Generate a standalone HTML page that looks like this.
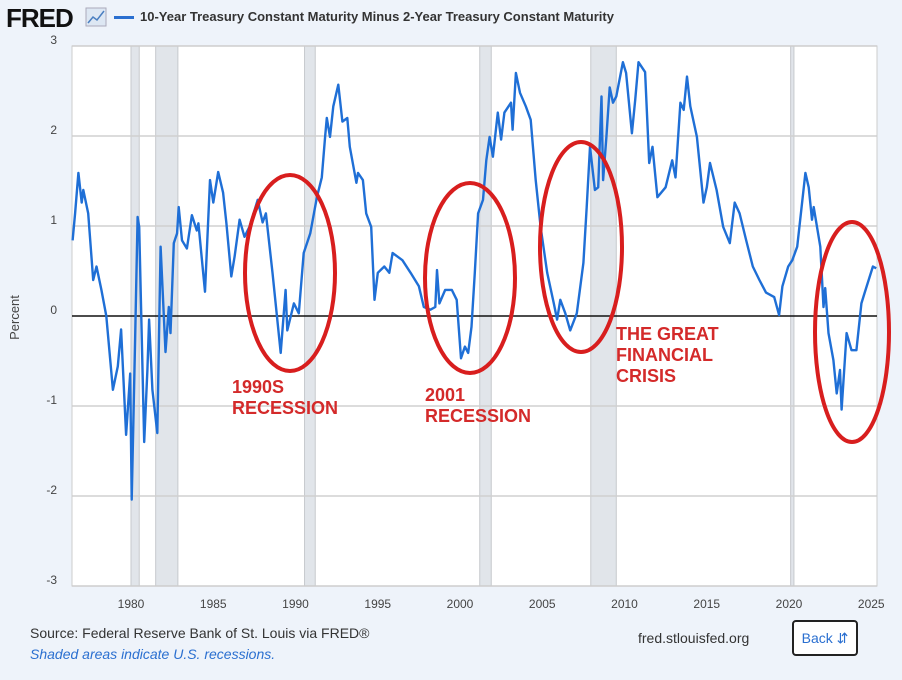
<!DOCTYPE html>
<html><head><meta charset="utf-8"><style>
body{margin:0;width:902px;height:680px;background:#eef3fa;font-family:"Liberation Sans",sans-serif;overflow:hidden;position:relative}
.t{position:absolute}
</style></head><body>
<div class="t" style="left:6px;top:3px;font-size:26px;font-weight:bold;color:#111;letter-spacing:-1px">FRED</div>
<svg class="t" style="left:85px;top:7px" width="22" height="20"><rect x="1" y="1" width="20" height="18" fill="#dde7f3" stroke="#aab" /><polyline points="3,16 8,10 12,13 19,4" fill="none" stroke="#4a7fc1" stroke-width="1.5"/></svg>
<div class="t" style="left:114px;top:16px;width:20px;height:3px;background:#2a6fd0"></div>
<div class="t" style="left:140px;top:9px;font-size:13px;font-weight:bold;color:#333">10-Year Treasury Constant Maturity Minus 2-Year Treasury Constant Maturity</div>
<div class="t" style="left:-8px;top:310px;font-size:13px;color:#444;transform:rotate(-90deg)">Percent</div>
<svg class="t" style="left:0;top:0" width="902" height="680" id="chart"></svg>
<div class="t" style="left:30px;top:625px;font-size:14px;color:#333">Source: Federal Reserve Bank of St. Louis via FRED®</div>
<div class="t" style="left:30px;top:646px;font-size:14px;color:#2a6fd0;font-style:italic">Shaded areas indicate U.S. recessions.</div>
<div class="t" style="left:638px;top:630px;font-size:14px;color:#333">fred.stlouisfed.org</div>
<div class="t" style="left:792px;top:620px;width:62px;height:32px;border:2px solid #222;border-radius:4px;background:#fff;font-size:14px;color:#2a6fd0;text-align:center;line-height:32px">Back ⇵</div>
<script>
const yTicks=[3,2,1,0,-1,-2,-3];
const xTicks=[1980,1985,1990,1995,2000,2005,2010,2015,2020,2025];
const recessions=[[1980.0,1980.5],[1981.5,1982.85],[1990.55,1991.2],[2001.2,2001.9],[2007.95,2009.5],[2020.1,2020.3]];
const years=[1976.45,1976.6,1976.8,1977.0,1977.1,1977.4,1977.7,1977.9,1978.2,1978.5,1978.9,1979.2,1979.4,1979.7,1979.95,1980.04,1980.25,1980.4,1980.5,1980.8,1981.0,1981.1,1981.3,1981.6,1981.8,1982.1,1982.3,1982.4,1982.6,1982.8,1982.9,1983.1,1983.4,1983.7,1984.0,1984.1,1984.5,1984.8,1985.0,1985.3,1985.6,1985.8,1986.1,1986.3,1986.6,1986.9,1987.2,1987.7,1988.0,1988.2,1988.6,1989.1,1989.4,1989.5,1989.9,1990.2,1990.5,1990.9,1991.3,1991.6,1991.8,1991.9,1992.1,1992.3,1992.6,1992.85,1993.15,1993.3,1993.7,1993.8,1994.1,1994.3,1994.6,1994.8,1995.0,1995.4,1995.7,1995.9,1996.5,1997.0,1997.5,1997.8,1998.2,1998.5,1998.6,1998.75,1999.1,1999.5,1999.8,2000.06,2000.3,2000.5,2000.7,2000.9,2001.1,2001.4,2001.6,2001.8,2002.0,2002.3,2002.5,2002.7,2003.1,2003.2,2003.4,2003.65,2004.0,2004.3,2004.6,2004.9,2005.3,2005.7,2005.9,2006.1,2006.4,2006.7,2007.1,2007.5,2007.7,2007.9,2008.2,2008.4,2008.6,2008.7,2008.9,2009.1,2009.3,2009.5,2009.9,2010.1,2010.45,2010.65,2010.85,2011.25,2011.5,2011.7,2012.0,2012.5,2012.9,2013.1,2013.4,2013.6,2013.8,2014.0,2014.4,2014.8,2015.0,2015.2,2015.6,2016.0,2016.4,2016.7,2017.0,2017.4,2017.8,2018.2,2018.6,2019.1,2019.4,2019.6,2019.95,2020.2,2020.5,2021.0,2021.2,2021.4,2021.5,2021.9,2022.1,2022.2,2022.4,2022.7,2022.9,2023.1,2023.2,2023.5,2023.8,2024.1,2024.4,2024.6,2025.1,2025.3];
const spread=[0.84,1.14,1.59,1.26,1.4,1.14,0.4,0.55,0.29,0.0,-0.82,-0.56,-0.15,-1.32,-0.64,-2.04,-0.27,1.1,0.99,-1.4,-0.6,-0.04,-0.82,-1.3,0.77,-0.4,0.1,-0.19,0.81,0.92,1.21,0.84,0.75,1.12,0.95,1.03,0.27,1.51,1.26,1.6,1.37,1.03,0.44,0.66,1.07,0.88,0.99,1.29,1.04,1.14,0.48,-0.41,0.29,-0.16,0.14,0.03,0.7,0.92,1.32,1.54,1.99,2.2,1.99,2.33,2.57,2.16,2.2,1.88,1.48,1.59,1.51,1.14,0.99,0.18,0.48,0.55,0.48,0.7,0.62,0.48,0.33,0.1,0.07,0.1,0.51,0.14,0.29,0.29,0.18,-0.47,-0.34,-0.41,-0.12,0.48,1.14,1.29,1.73,1.99,1.77,2.26,1.96,2.26,2.37,2.07,2.7,2.48,2.33,2.18,1.51,0.99,0.48,0.14,-0.04,0.18,0.03,-0.16,0.03,0.59,1.21,1.88,1.4,1.43,2.44,1.51,1.99,2.54,2.37,2.44,2.82,2.7,2.03,2.4,2.82,2.71,1.7,1.88,1.32,1.43,1.73,1.54,2.37,2.29,2.66,2.33,1.99,1.26,1.43,1.7,1.4,0.99,0.81,1.26,1.14,0.84,0.55,0.4,0.26,0.21,0.01,0.33,0.55,0.62,0.77,1.59,1.43,1.07,1.21,0.77,0.1,0.31,-0.19,-0.49,-0.86,-0.6,-1.04,-0.19,-0.38,-0.38,0.14,0.26,0.55,0.53];
const NS='http://www.w3.org/2000/svg';
const svg=document.getElementById('chart');
const L=72,R=877,T=46,B=586;
const xs=y=>131+(y-1980)*16.45;
const ys=v=>316-v*90;
function mk(tag,attrs,parent){const e=document.createElementNS(NS,tag);for(const k in attrs)e.setAttribute(k,attrs[k]);(parent||svg).appendChild(e);return e;}
let bg=mk('rect',{x:L,y:T,width:R-L,height:B-T,fill:'#fff'});


recessions.forEach(r=>{const e=mk('rect',{x:xs(r[0]),y:T,width:Math.max(2,xs(r[1])-xs(r[0])),height:B-T,fill:'#e1e5ea',stroke:'#c6c9cd','stroke-width':1});

});
yTicks.forEach(v=>{if(v!==0){const g=mk('line',{x1:L,x2:R,y1:ys(v),y2:ys(v),stroke:'#d0d0d0','stroke-width':1.5});

}
const t=mk('text',{x:57,y:ys(v)+(v===3?-2:-2),'text-anchor':'end','font-size':12,fill:'#444','font-family':'Liberation Sans'});t.textContent=v;

});
const fr=mk('rect',{x:L,y:T,width:R-L,height:B-T,fill:'none',stroke:'#ccc'});


xTicks.forEach(y=>{const t=mk('text',{x:xs(y),y:608,'text-anchor':'middle','font-size':12,fill:'#444','font-family':'Liberation Sans'});t.textContent=y;

});
const zl=mk('line',{x1:L,x2:R,y1:ys(0),y2:ys(0),stroke:'#111','stroke-width':1.5});


const ln=mk('polyline',{points:years.map((y,i)=>xs(y).toFixed(1)+','+ys(spread[i]).toFixed(1)).join(' '),fill:'none',stroke:'#1f6fd6','stroke-width':2.4,'stroke-linejoin':'round'});


[[290,273,45,98,'ellipse-1990s'],[470,278,45,95,'ellipse-2001'],[581,247,41,105,'ellipse-gfc'],[852,332,37,110,'ellipse-2022']].forEach(e=>{const el=mk('ellipse',{cx:e[0],cy:e[1],rx:e[2],ry:e[3],fill:'none',stroke:'#d81e1e','stroke-width':4});

});
[[232,393,['1990S','RECESSION'],'label-1990s'],[425,401,['2001','RECESSION'],'label-2001'],[616,340,['THE GREAT','FINANCIAL','CRISIS'],'label-gfc']].forEach(a=>{const t=mk('text',{x:a[0],y:a[1],'font-size':18,'font-weight':'bold',fill:'#d42a2a','font-family':'Liberation Sans'});


a[2].forEach((s,i)=>{const ts=mk('tspan',{x:a[0],dy:i?21:0},t);ts.textContent=s;});});
</script>
</body></html>
